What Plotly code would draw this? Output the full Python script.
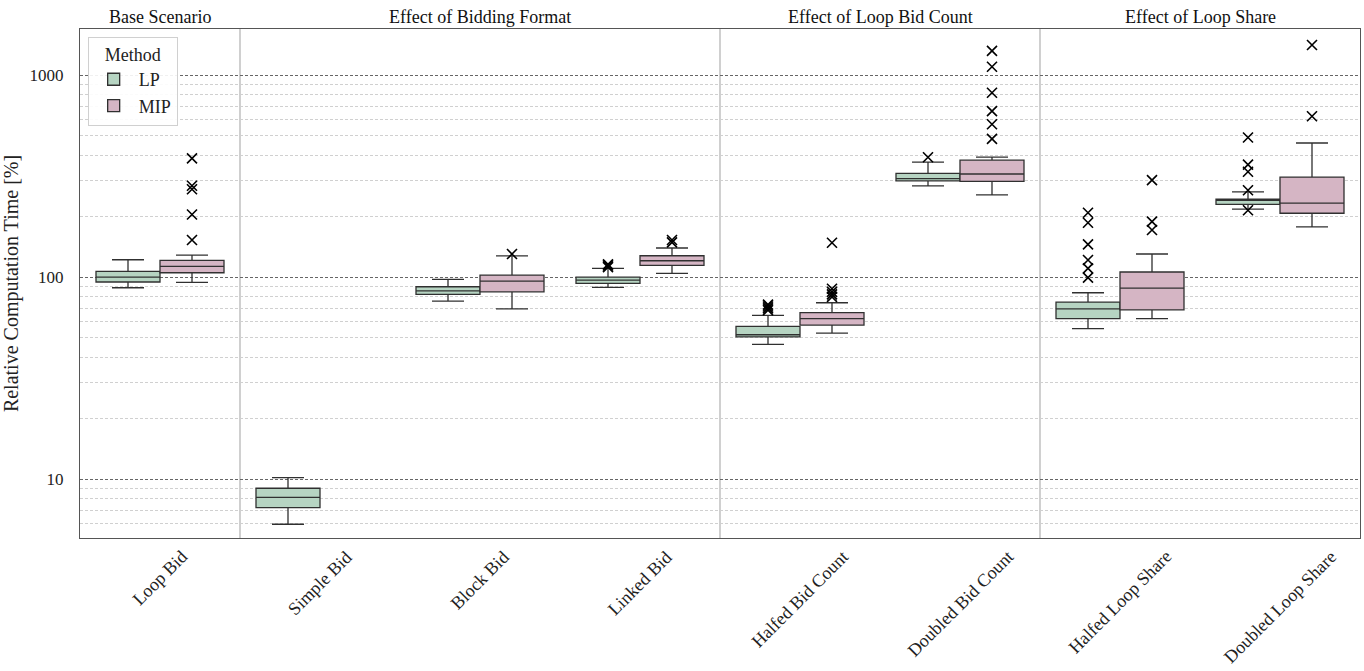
import plotly.graph_objects as go

# Scenario names along the x axis
categories = ["Loop Bid", "Simple Bid", "Block Bid", "Linked Bid",
              "Halfed Bid Count", "Doubled Bid Count",
              "Halfed Loop Share", "Doubled Loop Share"]

# LP relaxation: box statistics per scenario (relative computation time, %)
lp_low = [88.5, 5.97, 76.0, 88.9, 46.4, 283, 55.5, 217]
lp_q1 = [94.5, 7.22, 82.1, 93.1, 50.5, 299.6, 62.2, 229]
lp_median = [100, 8.12, 85.5, 96.5, 51.8, 306.8, 69.6, 240]
lp_q3 = [106.7, 9.0, 89.5, 100, 57.0, 326, 75.2, 242.7]
lp_high = [121.8, 10.15, 97.4, 110.4, 64.6, 371, 83.6, 264]
lp_outliers = [[], [], [], [112, 114, 115.5],
               [68.5, 70, 71.5, 73], [392],
               [99.3, 110.4, 121.4, 145.2, 185.6, 208],
               [214, 269, 332, 360, 491]]

# MIP: box statistics per scenario (no run for Simple Bid)
mip_low = [94.1, None, 69.5, 104.3, 52.8, 255, 62.2, 177]
mip_q1 = [105, None, 84.5, 114.3, 57.8, 297.7, 68.7, 206.9]
mip_median = [113, None, 95.5, 120.4, 62.2, 323.6, 88.2, 232.4]
mip_q3 = [120.9, None, 102.3, 127.5, 66.6, 379, 105.9, 312.6]
mip_high = [128.5, None, 127.4, 139.2, 74.6, 392.5, 130, 461]
mip_outliers = [[152.5, 204, 272, 283, 387], [], [130], [148.5, 152.5],
                [79.7, 82, 84.5, 87.5, 147.9],
                [483, 571, 663, 817, 1099, 1318],
                [170.9, 188, 302], [625, 1408]]

# Scenario groups drawn as headings above the plot
group_titles = ["Base Scenario", "Effect of Bidding Format",
                "Effect of Loop Bid Count", "Effect of Loop Share"]
group_spans = [(0, 0), (1, 3), (4, 5), (6, 7)]

FONT = "Liberation Serif, Times New Roman, serif"
TEXT = "#222222"
methods = [
    ("LP", -0.2, "#b6d4c2", lp_low, lp_q1, lp_median, lp_q3, lp_high, lp_outliers),
    ("MIP", 0.2, "#d5b5c4", mip_low, mip_q1, mip_median, mip_q3, mip_high, mip_outliers),
]

fig = go.Figure()
for name, shift, color, lo, q1, med, q3, hi, outs in methods:
    idx = [i for i in range(len(categories)) if med[i] is not None]
    fig.add_trace(go.Box(
        name=name,
        x=[i + shift for i in idx],
        lowerfence=[lo[i] for i in idx],
        q1=[q1[i] for i in idx],
        median=[med[i] for i in idx],
        q3=[q3[i] for i in idx],
        upperfence=[hi[i] for i in idx],
        width=0.4,
        whiskerwidth=0.5,
        fillcolor=color,
        line=dict(color="#303030", width=1.3),
        boxpoints=False,
        hoverinfo="y",
    ))
    ox, oy = [], []
    for i, vals in enumerate(outs):
        for v in vals:
            ox.append(i + shift)
            oy.append(v)
    fig.add_trace(go.Scatter(
        x=ox, y=oy, mode="markers", showlegend=False, name=name,
        marker=dict(symbol="x-thin", size=10, line=dict(color="black", width=1.6)),
    ))

# Separators between scenario groups
for start, end in group_spans[1:]:
    fig.add_shape(type="line", xref="x", yref="paper", x0=start - 0.5, x1=start - 0.5,
                  y0=0, y1=1, line=dict(color="#b0b0b0", width=1.2), layer="below")

for title, (start, end) in zip(group_titles, group_spans):
    fig.add_annotation(text=title, x=(start + end) / 2, y=1, xref="x", yref="paper",
                       yanchor="bottom", showarrow=False, yshift=0,
                       font=dict(family=FONT, size=18, color="#111111"))

# Category labels, rotated and centred under each position
for i, name in enumerate(categories):
    fig.add_annotation(text=name, x=i, y=0, xref="x", yref="paper",
                       xanchor="center", yanchor="top", textangle=-45,
                       showarrow=False, yshift=-6,
                       font=dict(family=FONT, size=18, color=TEXT))

minor_vals = [k * 10 ** e for e in range(0, 4) for k in range(2, 10)]

fig.update_layout(
    width=1364, height=671,
    margin=dict(l=80, r=4, t=29, b=133),
    paper_bgcolor="white", plot_bgcolor="white",
    font=dict(family=FONT, size=17, color=TEXT),
    boxmode="overlay",
    showlegend=True,
    legend=dict(
        x=0.006, y=0.985, xanchor="left", yanchor="top",
        bgcolor="rgba(255,255,255,0.9)", bordercolor="#d0d0d0", borderwidth=1,
        title=dict(text="Method", side="top center", font=dict(family=FONT, size=18)),
        font=dict(family=FONT, size=18),
        itemwidth=40,
    ),
    xaxis=dict(
        range=[-0.5, len(categories) - 0.5],
        tickvals=list(range(len(categories))), showticklabels=False,
        showgrid=False, zeroline=False,
        showline=True, linecolor="#555555", linewidth=1, mirror=True,
        ticks="",
    ),
    yaxis=dict(
        type="log", range=[0.708, 3.228],
        tickvals=[10, 100, 1000], ticktext=["10", "100", "1000"],
        showgrid=True, gridcolor="#666666", gridwidth=0.8, griddash="3px,2px",
        minor=dict(tickvals=minor_vals, showgrid=True, gridcolor="#d0d0d0",
                   gridwidth=0.8, griddash="3px,2px", ticks=""),
        showline=True, linecolor="#555555", linewidth=1, mirror=True,
        ticks="", zeroline=False, ticklabelstandoff=12,
        title=dict(text="Relative Computation Time [%]", standoff=6,
                   font=dict(family=FONT, size=20)),
        tickfont=dict(family=FONT, size=17, color=TEXT),
    ),
)

fig.write_html("out.html")
